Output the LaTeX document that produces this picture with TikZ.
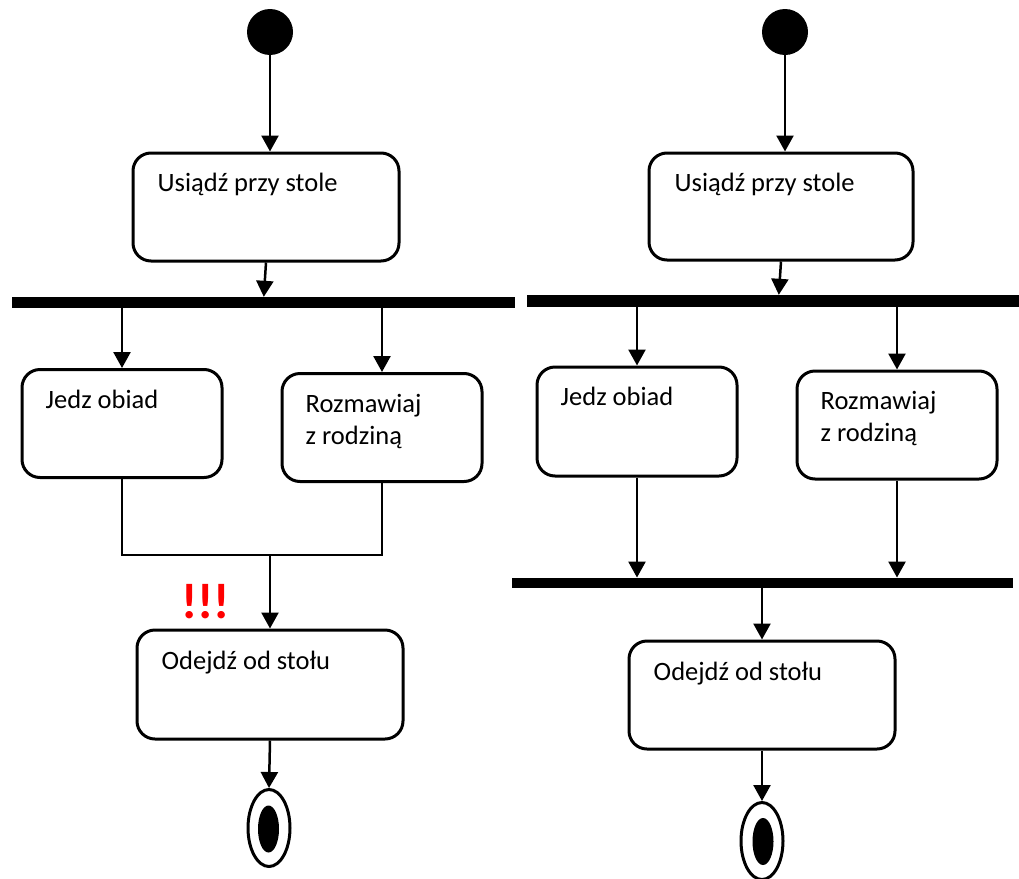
\documentclass[tikz,border=0pt]{standalone}
\usepackage{fontspec}
\setmainfont{Carlito}
\usetikzlibrary{arrows.meta,shapes.geometric,calc}

\tikzset{
  act/.style={draw, line width=3pt, rounded corners=18pt, minimum width=200pt, minimum height=108pt, inner sep=0pt},
  lbl/.style={inner sep=0pt, anchor=base west, align=left, font=\fontsize{26.5}{32}\selectfont},
  startdot/.style={circle, fill=black, minimum size=46pt, inner sep=0pt},
  endring/.style={ellipse, draw, line width=3pt, minimum width=42pt, minimum height=77pt, inner sep=0pt},
  enddot/.style={ellipse, fill=black, minimum width=21pt, minimum height=47pt, inner sep=0pt},
  bar/.style={rectangle, fill=black, minimum height=11pt, inner sep=0pt},
  ln/.style={line width=2.5pt},
  arr/.style={line width=2.5pt, -{Triangle[width=17pt,length=16pt]}},
  warn/.style={inner sep=0pt, anchor=base west, text=red, font=\fontsize{50}{54}\selectfont\bfseries}
}

\begin{document}
\begin{tikzpicture}[x=1pt,y=-1pt]
\fill[white] (0,0) rectangle (1019,878);
\useasboundingbox (0,0) rectangle (1019,878);

% ---------- left flow: join without synchronisation bar ----------
\node[startdot] (s1) at (270,32) {};
\node[act, minimum width=266pt] (u1) at (266,207) {};
\node[lbl] (u1t) at ($(u1.north west)+(26,40)$) {Usiądź przy stole};
\node[bar, minimum width=503pt] (f1) at (263.5,302.5) {};
\node[act] (j1) at (122,423.5) {};
\node[lbl] (j1t) at ($(j1.north west)+(25,40)$) {Jedz obiad};
\node[act] (r1) at (382,427.5) {};
\node[lbl] (r1t) at ($(r1.north west)+(25,72)$) {Rozmawiaj\\z rodziną};
\coordinate (m1) at (270,555);
\node[warn] (w1) at (181,618) {!!!};
\node[act, minimum width=266pt, minimum height=109pt] (o1) at (270,684.5) {};
\node[lbl] (o1t) at ($(o1.north west)+(26,41)$) {Odejdź od stołu};
\node[endring] (e1) at (269,828) {};
\node[enddot] (e1i) at (268.5,829) {};

\draw[arr] (s1) -- (s1 |- u1.north);
\draw[arr] (u1.south) -- ($(f1.north west)+(252,0)$);
\draw[arr] (f1.south -| j1.north) -- (j1.north);
\draw[arr] (f1.south -| r1.north) -- (r1.north);
\draw[ln] (j1.south) |- (m1);
\draw[ln] (r1.south) |- (m1);
\draw[arr] (m1) -- (o1.north);
\draw[arr] (o1.south) -- (e1.north);

% ---------- right flow: fork and join bars ----------
\node[startdot] (s2) at (785,32) {};
\node[act, minimum width=264pt, minimum height=107pt] (u2) at (781,206.5) {};
\node[lbl] (u2t) at ($(u2.north west)+(27,40)$) {Usiądź przy stole};
\node[bar, minimum width=494pt, minimum height=12pt] (f2) at (774,301) {};
\node[act, minimum height=109pt] (j2) at (637,421.5) {};
\node[lbl] (j2t) at ($(j2.north west)+(25,40)$) {Jedz obiad};
\node[act] (r2) at (897,425) {};
\node[lbl] (r2t) at ($(r2.north west)+(25,72)$) {Rozmawiaj\\z rodziną};
\node[bar, minimum width=501pt, minimum height=10.5pt] (f3) at (762.5,583) {};
\node[act, minimum width=266pt, minimum height=108pt] (o2) at (762,695) {};
\node[lbl] (o2t) at ($(o2.north west)+(26,41)$) {Odejdź od stołu};
\node[endring] (e2) at (762,841) {};
\node[enddot] (e2i) at (763,841.5) {};

\draw[arr] (s2) -- (s2 |- u2.north);
\draw[arr] (u2.south) -- ($(f2.north west)+(252,0)$);
\draw[arr] (f2.south -| j2.north) -- (j2.north);
\draw[arr] (f2.south -| r2.north) -- (r2.north);
\draw[arr] (j2.south) -- (j2.south |- f3.north);
\draw[arr] (r2.south) -- (r2.south |- f3.north);
\draw[arr] (f3.south -| o2.north) -- (o2.north);
\draw[arr] (o2.south) -- (e2.north);
\end{tikzpicture}
\end{document}
